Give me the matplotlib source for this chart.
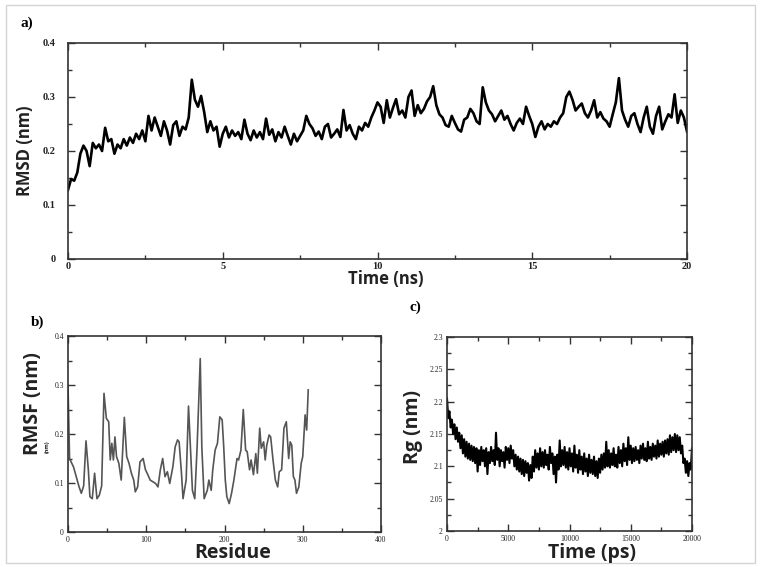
import numpy as np
import matplotlib
matplotlib.use('Agg')
import matplotlib.pyplot as plt
from matplotlib.ticker import MultipleLocator, FuncFormatter
from matplotlib.patches import Rectangle

# RMSD of backbone, one value every 0.1 ns (0 .. 20 ns)
rmsd_time = np.arange(0, 201) * 0.1
rmsd_nm = [
    0.128, 0.148, 0.145, 0.160, 0.195, 0.210, 0.200, 0.172, 0.215, 0.205,
    0.212, 0.200, 0.243, 0.218, 0.222, 0.195, 0.212, 0.205, 0.222, 0.210,
    0.225, 0.215, 0.232, 0.222, 0.238, 0.218, 0.265, 0.238, 0.262, 0.245,
    0.228, 0.255, 0.238, 0.212, 0.248, 0.255, 0.228, 0.245, 0.240, 0.262,
    0.332, 0.295, 0.282, 0.302, 0.272, 0.235, 0.255, 0.238, 0.245, 0.208,
    0.232, 0.245, 0.225, 0.238, 0.228, 0.235, 0.222, 0.258, 0.232, 0.220,
    0.238, 0.225, 0.235, 0.222, 0.260, 0.230, 0.240, 0.218, 0.235, 0.225,
    0.245, 0.228, 0.212, 0.232, 0.218, 0.228, 0.238, 0.265, 0.250, 0.242,
    0.228, 0.236, 0.222, 0.245, 0.250, 0.225, 0.232, 0.240, 0.226, 0.276,
    0.238, 0.248, 0.232, 0.222, 0.245, 0.238, 0.252, 0.245, 0.262, 0.275,
    0.290, 0.282, 0.252, 0.294, 0.262, 0.280, 0.296, 0.268, 0.275, 0.262,
    0.300, 0.312, 0.265, 0.285, 0.270, 0.278, 0.292, 0.300, 0.320, 0.285,
    0.268, 0.262, 0.248, 0.245, 0.265, 0.252, 0.240, 0.236, 0.258, 0.262,
    0.278, 0.270, 0.255, 0.250, 0.318, 0.290, 0.275, 0.268, 0.255, 0.265,
    0.275, 0.258, 0.265, 0.250, 0.238, 0.252, 0.260, 0.250, 0.282, 0.265,
    0.250, 0.226, 0.245, 0.255, 0.240, 0.250, 0.245, 0.255, 0.250, 0.262,
    0.270, 0.300, 0.310, 0.295, 0.275, 0.282, 0.288, 0.270, 0.262, 0.275,
    0.294, 0.262, 0.272, 0.260, 0.255, 0.245, 0.268, 0.290, 0.335, 0.275,
    0.258, 0.245, 0.265, 0.270, 0.250, 0.235, 0.262, 0.282, 0.245, 0.232,
    0.265, 0.282, 0.240, 0.255, 0.268, 0.262, 0.305, 0.252, 0.275, 0.262,
    0.236,
]

# RMSF per residue
residue = [
    0, 2, 4, 7, 10, 14, 17, 20, 23, 26, 28, 31, 34, 37, 40, 43, 46, 49, 52, 54,
    56, 58, 60, 62, 65, 68, 72, 75, 78, 81, 84, 86, 89, 92, 96, 99, 102, 105, 108, 112,
    115, 118, 121, 124, 127, 130, 134, 137, 140, 142, 145, 147, 151, 154, 157, 159, 162, 165, 169, 171,
    174, 178, 180, 183, 185, 188, 191, 194, 197, 199, 201, 203, 206, 209, 212, 216, 218, 221, 224, 227,
    229, 232, 234, 237, 240, 242, 245, 247, 250, 252, 254, 257, 259, 262, 265, 268, 270, 273, 276, 279,
    282, 284, 286, 288, 290, 292, 295, 298, 300, 303, 305, 307,
]
rmsf_nm = [
    0.300, 0.150, 0.143, 0.133, 0.116, 0.093, 0.079, 0.094, 0.186, 0.127, 0.072, 0.068, 0.120, 0.068, 0.075, 0.094, 0.283, 0.232, 0.225, 0.147,
    0.181, 0.147, 0.194, 0.154, 0.140, 0.106, 0.234, 0.154, 0.140, 0.120, 0.106, 0.082, 0.092, 0.143, 0.150, 0.127, 0.117, 0.106, 0.103, 0.099,
    0.092, 0.127, 0.150, 0.113, 0.123, 0.099, 0.133, 0.174, 0.188, 0.184, 0.120, 0.068, 0.106, 0.257, 0.154, 0.085, 0.068, 0.174, 0.354, 0.174,
    0.068, 0.085, 0.106, 0.085, 0.127, 0.167, 0.181, 0.235, 0.229, 0.174, 0.106, 0.072, 0.058, 0.079, 0.106, 0.150, 0.147, 0.167, 0.250, 0.167,
    0.164, 0.127, 0.147, 0.117, 0.160, 0.120, 0.212, 0.171, 0.184, 0.147, 0.177, 0.198, 0.194, 0.147, 0.106, 0.092, 0.123, 0.127, 0.212, 0.225,
    0.150, 0.184, 0.177, 0.113, 0.106, 0.079, 0.092, 0.140, 0.154, 0.239, 0.208, 0.290,
]

# radius of gyration, one value every 100 ps
rg_time = np.arange(0, 201) * 100
rg_nm = [
    2.205, 2.175, 2.185, 2.160, 2.172, 2.150, 2.165, 2.142, 2.160, 2.138,
    2.152, 2.128, 2.148, 2.120, 2.142, 2.115, 2.138, 2.112, 2.135, 2.110,
    2.132, 2.108, 2.130, 2.105, 2.128, 2.092, 2.125, 2.102, 2.130, 2.108,
    2.125, 2.100, 2.128, 2.088, 2.122, 2.105, 2.130, 2.108, 2.125, 2.102,
    2.152, 2.110, 2.128, 2.100, 2.125, 2.108, 2.122, 2.098, 2.130, 2.110,
    2.128, 2.105, 2.132, 2.112, 2.125, 2.100, 2.118, 2.095, 2.115, 2.092,
    2.112, 2.088, 2.110, 2.085, 2.108, 2.090, 2.105, 2.078, 2.102, 2.082,
    2.115, 2.092, 2.125, 2.098, 2.120, 2.095, 2.128, 2.100, 2.122, 2.098,
    2.125, 2.102, 2.118, 2.095, 2.130, 2.105, 2.120, 2.088, 2.115, 2.075,
    2.118, 2.095, 2.140, 2.100, 2.125, 2.102, 2.130, 2.098, 2.122, 2.095,
    2.128, 2.100, 2.120, 2.092, 2.132, 2.098, 2.118, 2.090, 2.125, 2.095,
    2.115, 2.088, 2.120, 2.092, 2.112, 2.085, 2.118, 2.090, 2.110, 2.088,
    2.115, 2.085, 2.108, 2.082, 2.112, 2.090, 2.118, 2.095, 2.120, 2.098,
    2.138, 2.100, 2.125, 2.098, 2.120, 2.102, 2.128, 2.100, 2.118, 2.098,
    2.130, 2.105, 2.125, 2.100, 2.135, 2.108, 2.128, 2.102, 2.145, 2.110,
    2.132, 2.105, 2.128, 2.108, 2.130, 2.110, 2.125, 2.105, 2.132, 2.112,
    2.135, 2.110, 2.128, 2.108, 2.138, 2.112, 2.130, 2.110, 2.135, 2.115,
    2.132, 2.112, 2.140, 2.115, 2.135, 2.118, 2.138, 2.115, 2.140, 2.120,
    2.142, 2.118, 2.148, 2.122, 2.145, 2.125, 2.150, 2.122, 2.148, 2.125,
    2.145, 2.120, 2.132, 2.105, 2.112, 2.090, 2.108, 2.085, 2.105, 2.095,
    2.128,
]

W, H = 761, 567
plt.rcParams['font.family'] = ['Liberation Serif', 'DejaVu Serif']
fig = plt.figure(figsize=(W / 100, H / 100), dpi=100)

LABEL = dict(family=['Open Sans', 'DejaVu Sans'], fontweight='bold', color='#222222')


def box(l, t, r, b):
    return [l / W, 1 - b / H, (r - l) / W, (b - t) / H]


def fig_text(x, y, s, **kw):
    fig.text(x / W, 1 - y / H, s, **kw)


def style(ax, xmaj, xmin, ymaj, ymin, fs, bold, ypad, xpad):
    ax.xaxis.set_major_locator(MultipleLocator(xmaj))
    ax.xaxis.set_minor_locator(MultipleLocator(xmin))
    ax.yaxis.set_major_locator(MultipleLocator(ymaj))
    ax.yaxis.set_minor_locator(MultipleLocator(ymin))
    fmt = FuncFormatter(lambda v, p: '%g' % round(v, 4))
    ax.xaxis.set_major_formatter(fmt)
    ax.yaxis.set_major_formatter(fmt)
    ax.tick_params(which='both', direction='in', top=True, right=True,
                   color='#333333', width=1.0, labelsize=fs, labelcolor='#222222')
    ax.tick_params(which='major', length=5)
    ax.tick_params(which='minor', length=3)
    ax.tick_params(axis='y', pad=ypad)
    ax.tick_params(axis='x', pad=xpad)
    for lab in ax.get_xticklabels() + ax.get_yticklabels():
        lab.set_fontweight('bold' if bold else 'normal')
    for s in ax.spines.values():
        s.set_linewidth(1.2)
        s.set_color('#333333')


# a) RMSD
ax_a = fig.add_axes(box(68, 43, 687, 259))
ax_a.plot(rmsd_time, rmsd_nm, color='black', lw=1.9)
ax_a.set_xlim(0, 20)
ax_a.set_ylim(0, 0.4)
style(ax_a, 5, 2.5, 0.1, 0.05, 7.5, True, 9, 2)

# b) RMSF
ax_b = fig.add_axes(box(68, 336, 381, 532))
ax_b.plot(residue, rmsf_nm, color='#555555', lw=1.2)
ax_b.set_xlim(0, 400)
ax_b.set_ylim(0, 0.4)
style(ax_b, 100, 50, 0.1, 0.05, 5.5, False, 3, 3)

# c) Rg
ax_c = fig.add_axes(box(447, 337, 692, 531))
ax_c.plot(rg_time, rg_nm, color='black', lw=1.5)
ax_c.set_xlim(0, 20000)
ax_c.set_ylim(2.0, 2.3)
style(ax_c, 5000, 2500, 0.05, 0.025, 5.5, False, 3, 3)

# labels
fig_text(27, 23, 'a)', fontsize=11, fontweight='bold', ha='center', va='center')
fig_text(38, 322, 'b)', fontsize=11, fontweight='bold', ha='center', va='center')
fig_text(415, 307, 'c)', fontsize=11, fontweight='bold', ha='center', va='center')

fig_text(25, 151, 'RMSD (nm)', fontsize=12, rotation=90, ha='center', va='center', **LABEL)
fig_text(386, 279, 'Time (ns)', fontsize=12, ha='center', va='center', **LABEL)
fig_text(33, 404, 'RMSF (nm)', fontsize=14, rotation=90, ha='center', va='center', **LABEL)
fig_text(47, 447, '(nm)', fontsize=4, rotation=90, ha='center', va='center', **LABEL)
fig_text(233, 553, 'Residue', fontsize=14, ha='center', va='center', **LABEL)
fig_text(413, 427, 'Rg (nm)', fontsize=14, rotation=90, ha='center', va='center', **LABEL)
fig_text(592, 553, 'Time (ps)', fontsize=14, ha='center', va='center', **LABEL)

# light frame around the whole figure
fig.patches.append(Rectangle((6 / W, 1 - 563 / H), 749 / W, 558 / H,
                             transform=fig.transFigure, fill=False,
                             edgecolor='#d4d4d4', lw=1.0))

fig.savefig('out.png', dpi=100)
